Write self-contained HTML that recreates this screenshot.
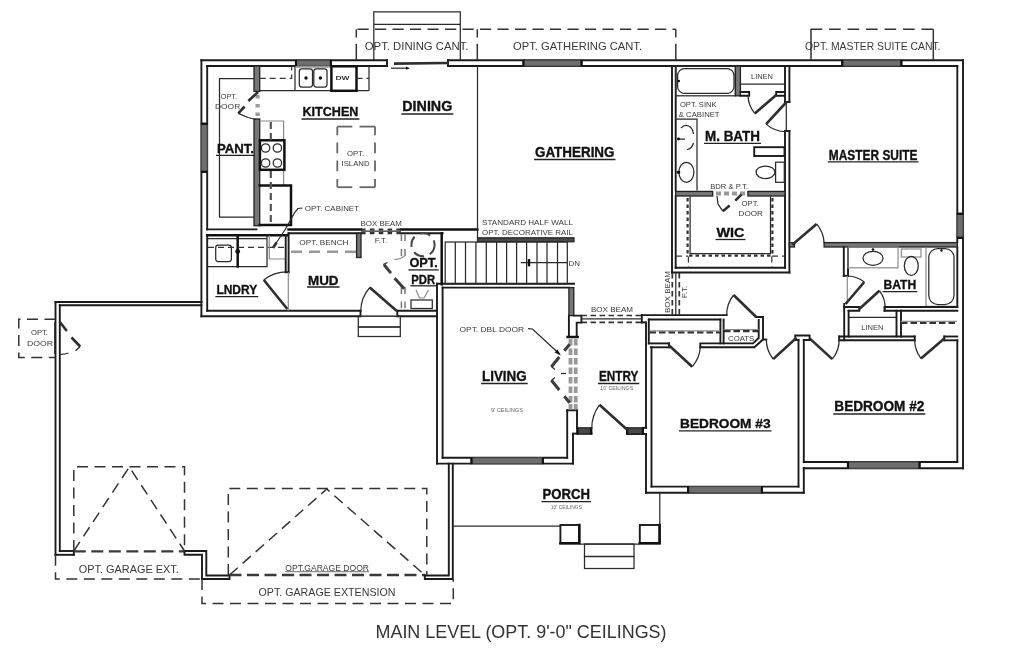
<!DOCTYPE html>
<html lang="en"><head><meta charset="utf-8"><title>Main Level Floor Plan</title>
<style>
html,body{margin:0;padding:0;background:#fff;}
body{width:1024px;height:669px;overflow:hidden;font-family:"Liberation Sans",sans-serif;}
svg{display:block;filter:blur(0.6px);}
svg *{fill:none;}
.w{stroke:#1b1b1b;stroke-width:1.9;stroke-linecap:square;}
.k{stroke:#111;stroke-width:2.5;stroke-linecap:square;}
.t{stroke:#2a2a2a;stroke-width:1.25;}
.g{stroke:#8a8a8a;stroke-width:1.2;}
.d{stroke:#333;stroke-width:1.5;stroke-dasharray:11 6.5;}
.ds{stroke:#333;stroke-width:1.2;stroke-dasharray:6 4;}
.dk{stroke:#3a3a3a;stroke-width:2.4;stroke-dasharray:12 5.5;}
.dg{stroke:#555;stroke-width:2.2;stroke-dasharray:7 4;}
.dl{stroke:#2e2e2e;stroke-width:2.6;}
.f{fill:#6e6e6e;stroke:#4a4a4a;stroke-width:1.1;}
.f2{fill:#484848;stroke:#222;stroke-width:1.2;}
.fg{fill:#999;stroke:none;}
.fl{fill:#777;stroke:#222;stroke-width:1.3;}
.dd{stroke:#4a4a4a;stroke-width:2.6;stroke-dasharray:10 5.5;}
.db2{stroke:#333;stroke-width:1.7;stroke-dasharray:5.5 3.5;}
.dh2{stroke:#333;stroke-width:2.2;stroke-dasharray:6.5 3;}
.dd1{stroke:#333;stroke-width:1.5;}
.dbx{stroke:#333;stroke-width:2.2;stroke-dasharray:4.6 4.25;}
.dv{stroke:#3c3c3c;stroke-width:3;}
.gw{stroke:#777;stroke-width:1.5;}
.gi{stroke:#666;stroke-width:1.8;}
.dh{stroke:#333;stroke-width:2.2;stroke-dasharray:3.5 3;}
.fk{fill:#111;stroke:none;}
.u{stroke:#222;stroke-width:1.3;}
text{font-family:"Liberation Sans",sans-serif;stroke:none;}
text.b{fill:#111;font-weight:bold;stroke:#111;stroke-width:0.35;}
text.s{fill:#3a3a3a;}
text.b2{fill:#333;font-weight:bold;}
text.x{fill:#666;}
text.h{fill:#333;}
</style></head>
<body>
<svg width="1024" height="669" viewBox="0 0 1024 669">
<rect x="0" y="0" width="1024" height="669" style="fill:#fff"/>
<line class="w" x1="201.4" y1="60.3" x2="387" y2="60.3"/>
<line class="w" x1="448" y1="60.3" x2="963.0" y2="60.3"/>
<line class="w" x1="207.2" y1="66.0" x2="387" y2="66.0"/>
<line class="w" x1="448" y1="66.0" x2="957.3" y2="66.0"/>
<line class="w" x1="387" y1="60.3" x2="387" y2="66.0"/>
<line class="w" x1="448" y1="60.3" x2="448" y2="66.0"/>
<rect class="f" x="295.5" y="60.3" width="35.9" height="5.7"/>
<rect class="fk" x="294.9" y="59.8" width="2.2" height="6.7"/>
<rect class="fk" x="329.79999999999995" y="59.8" width="2.2" height="6.7"/>
<rect class="f" x="523" y="60.3" width="59" height="5.7"/>
<rect class="fk" x="522.4" y="59.8" width="2.2" height="6.7"/>
<rect class="fk" x="580.4" y="59.8" width="2.2" height="6.7"/>
<rect class="f" x="841.8" y="60.3" width="60.0" height="5.7"/>
<rect class="fk" x="841.1999999999999" y="59.8" width="2.2" height="6.7"/>
<rect class="fk" x="900.1999999999999" y="59.8" width="2.2" height="6.7"/>
<line class="dl" x1="394" y1="63.6" x2="448" y2="63.0"/>
<line class="t" x1="391" y1="68.2" x2="406" y2="68.2"/>
<path class="fk" d="M406 66.6 L410 68.2 L406 69.8 Z"/>
<line class="w" x1="201.4" y1="60.3" x2="201.4" y2="316.2"/>
<line class="w" x1="207.2" y1="66.0" x2="207.2" y2="229.4"/>
<line class="w" x1="207.2" y1="235.2" x2="207.2" y2="310.8"/>
<rect class="f" x="201.4" y="123.3" width="5.8" height="49.0"/>
<rect class="fk" x="200.9" y="122.7" width="6.8" height="2.2"/>
<rect class="fk" x="200.9" y="170.70000000000002" width="6.8" height="2.2"/>
<line class="w" x1="963.0" y1="60.3" x2="963.0" y2="468.2"/>
<line class="w" x1="957.3" y1="66.0" x2="957.3" y2="242"/>
<line class="w" x1="957.3" y1="247" x2="957.3" y2="307"/>
<line class="w" x1="957.3" y1="340.3" x2="957.3" y2="462"/>
<rect class="f" x="957.3" y="213.3" width="5.7" height="25.0"/>
<rect class="fk" x="956.8" y="212.70000000000002" width="6.7" height="2.2"/>
<rect class="fk" x="956.8" y="236.70000000000002" width="6.7" height="2.2"/>
<line class="w" x1="803.8" y1="468.2" x2="963.0" y2="468.2"/>
<line class="w" x1="803.8" y1="462" x2="957.3" y2="462"/>
<rect class="f" x="847.5" y="462" width="72.5" height="6.2"/>
<rect class="fk" x="846.9" y="461.5" width="2.2" height="7.2"/>
<rect class="fk" x="918.4" y="461.5" width="2.2" height="7.2"/>
<line class="w" x1="798.5" y1="340" x2="798.5" y2="486.6"/>
<line class="w" x1="803.8" y1="340" x2="803.8" y2="462"/>
<line class="w" x1="803.8" y1="468.2" x2="803.8" y2="492.8"/>
<line class="w" x1="646" y1="492.8" x2="803.8" y2="492.8"/>
<line class="w" x1="651.5" y1="486.6" x2="798.5" y2="486.6"/>
<rect class="f" x="687.6" y="486.6" width="74.8" height="6.2"/>
<rect class="fk" x="687.0" y="486.1" width="2.2" height="7.2"/>
<rect class="fk" x="760.8" y="486.1" width="2.2" height="7.2"/>
<line class="w" x1="646" y1="322.4" x2="646" y2="427.8"/>
<line class="w" x1="646" y1="434" x2="646" y2="492.8"/>
<line class="w" x1="651.5" y1="347.3" x2="651.5" y2="486.6"/>
<line class="w" x1="573" y1="433.6" x2="591.5" y2="433.6"/>
<line class="w" x1="627.5" y1="434" x2="646" y2="434"/>
<line class="w" x1="643.3" y1="427.8" x2="646" y2="427.8"/>
<rect class="f2" x="577" y="427.8" width="14.6" height="6.2"/>
<rect class="fk" x="576.4" y="427.3" width="2.2" height="7.2"/>
<rect class="fk" x="590.0" y="427.3" width="2.2" height="7.2"/>
<rect class="f2" x="626.6" y="427.8" width="16.7" height="6.2"/>
<rect class="fk" x="626.0" y="427.3" width="2.2" height="7.2"/>
<rect class="fk" x="641.6999999999999" y="427.3" width="2.2" height="7.2"/>
<line class="dl" x1="628" y1="430.5" x2="599.5" y2="404.8"/>
<path class="t" d="M599.5 404.8 A38.38 38.38 0 0 0 591.8 429"/>
<line class="w" x1="437" y1="283.8" x2="574" y2="283.8"/>
<line class="w" x1="442.6" y1="287.6" x2="568.9" y2="287.6"/>
<line class="w" x1="437" y1="283.8" x2="437" y2="463.6"/>
<line class="w" x1="442.6" y1="287.6" x2="442.6" y2="457.8"/>
<line class="w" x1="437" y1="463.6" x2="573" y2="463.6"/>
<line class="w" x1="442.6" y1="457.8" x2="567.2" y2="457.8"/>
<rect class="f" x="471" y="457.8" width="72.3" height="5.8"/>
<rect class="fk" x="470.4" y="457.3" width="2.2" height="6.8"/>
<rect class="fk" x="541.6999999999999" y="457.3" width="2.2" height="6.8"/>
<line class="w" x1="573" y1="434" x2="573" y2="463.6"/>
<line class="w" x1="567.2" y1="410.3" x2="567.2" y2="457.8"/>
<line class="w" x1="577" y1="410.3" x2="577" y2="427.8"/>
<line class="w" x1="567.2" y1="410.3" x2="577" y2="410.3"/>
<rect class="fl" x="568.9" y="287.6" width="4.9" height="28.0"/>
<line class="w" x1="568.9" y1="315.6" x2="568.9" y2="337"/>
<path class="w" d="M573.8 315.6 L581.4 315.6 L581.4 322.6 L576.7 322.6 L576.7 337"/>
<line class="k" x1="567.6" y1="337" x2="577.6" y2="337"/>
<rect class="fg" x="568.6" y="339" width="3.8" height="6.5"/>
<rect class="fg" x="573.8" y="339" width="3.8" height="6.5"/>
<rect class="fg" x="568.6" y="348.5" width="3.8" height="6.5"/>
<rect class="fg" x="573.8" y="348.5" width="3.8" height="6.5"/>
<rect class="fg" x="568.6" y="358" width="3.8" height="6.5"/>
<rect class="fg" x="573.8" y="358" width="3.8" height="6.5"/>
<rect class="fg" x="568.6" y="367.5" width="3.8" height="6.5"/>
<rect class="fg" x="573.8" y="367.5" width="3.8" height="6.5"/>
<rect class="fg" x="568.6" y="377" width="3.8" height="6.5"/>
<rect class="fg" x="573.8" y="377" width="3.8" height="6.5"/>
<rect class="fg" x="568.6" y="386.5" width="3.8" height="6.5"/>
<rect class="fg" x="573.8" y="386.5" width="3.8" height="6.5"/>
<rect class="fg" x="568.6" y="396" width="3.8" height="6.5"/>
<rect class="fg" x="573.8" y="396" width="3.8" height="6.5"/>
<rect class="fg" x="568.6" y="404" width="3.8" height="5.5"/>
<rect class="fg" x="573.8" y="404" width="3.8" height="5.5"/>
<line class="dv" x1="569.7" y1="344.2" x2="564.3" y2="350.8"/>
<line class="dv" x1="559.3" y1="357" x2="551.4" y2="366.8"/>
<line class="dv" x1="569.7" y1="402.8" x2="564.3" y2="396.2"/>
<line class="dv" x1="559.3" y1="390" x2="551.4" y2="380.2"/>
<line class="t" x1="551.3" y1="366.5" x2="555" y2="369.5"/>
<line class="t" x1="551.3" y1="380.5" x2="555" y2="377.5"/>
<line class="t" x1="561" y1="373.5" x2="566" y2="373.5"/>
<path class="t" d="M528 328.6 L532.5 329 L559.5 354"/>
<path class="fk" d="M561 355.6 L554.6 352.6 L557.4 349.6 Z"/>
<line class="w" x1="55.5" y1="302" x2="201.4" y2="302"/>
<line class="w" x1="59.8" y1="305.3" x2="201.4" y2="305.3"/>
<line class="w" x1="55.5" y1="302" x2="55.5" y2="554.8"/>
<line class="w" x1="59.8" y1="305.3" x2="59.8" y2="551"/>
<line class="w" x1="55.5" y1="554.8" x2="73.8" y2="554.8"/>
<line class="w" x1="59.8" y1="551" x2="73.8" y2="551"/>
<line class="w" x1="73.8" y1="551" x2="73.8" y2="554.8"/>
<line class="dk" x1="73.8" y1="551.4" x2="184.5" y2="551.4"/>
<path class="w" d="M184.5 554.8 L184.5 551 L206.3 551 L206.3 575.5 L229.5 575.5 L229.5 579 L202 579 L202 554.8 L184.5 554.8"/>
<line class="dk" x1="229.5" y1="575" x2="424.8" y2="575"/>
<path class="w" d="M424.8 575.5 L448.8 575.5 L448.8 463.6"/>
<path class="w" d="M424.8 575.5 L424.8 579 L452.8 579 L452.8 463.6"/>
<line class="w" x1="201.4" y1="316.2" x2="360.5" y2="316.2"/>
<line class="w" x1="397.3" y1="316.2" x2="437" y2="316.2"/>
<line class="w" x1="207.2" y1="310.8" x2="360.5" y2="310.8"/>
<line class="w" x1="397.3" y1="310.8" x2="437" y2="310.8"/>
<line class="w" x1="360.5" y1="310.8" x2="360.5" y2="316.2"/>
<line class="w" x1="397.3" y1="310.8" x2="397.3" y2="316.2"/>
<line class="g" x1="360.5" y1="316.2" x2="397.3" y2="316.2"/>
<rect class="t" x="358.3" y="316.2" width="42.0" height="10.8"/>
<rect class="t" x="358.3" y="327" width="42.0" height="9.5"/>
<path class="d" d="M73.8 551 L73.8 466.7 L184.5 466.7 L184.5 551"/>
<path class="d" d="M73.8 551 L129.3 467 L184.5 551"/>
<path class="d" d="M228.3 575 L228.3 488.5 L426.8 488.5 L426.8 575"/>
<path class="d" d="M229.5 575 L326.8 489 L424.8 575"/>
<path class="d" d="M55.5 554.8 L55.5 579 L202 579"/>
<path class="d" d="M202 579 L202 603.5 L453.3 603.5 L453.3 579"/>
<path class="d" d="M55.5 319.2 L18.8 319.2 L18.8 357.5 L55.5 357.5"/>
<line class="dl" x1="59.5" y1="321.5" x2="66.8" y2="331"/>
<line class="dl" x1="71.5" y1="337.5" x2="80.2" y2="346.5"/>
<line class="t" x1="80.2" y1="346.5" x2="75.5" y2="350.8"/>
<path class="t" d="M68.5 353 Q64.5 354.5 60 354.3"/>
<line class="t" x1="54.8" y1="322" x2="54.8" y2="354"/>
<line class="t" x1="452.8" y1="526" x2="560.4" y2="526"/>
<rect class="w" x="560.4" y="525" width="18.9" height="18.4"/>
<path class="k" d="M560.4 543.2 L579.3 543.2 L579.3 525"/>
<rect class="w" x="639.8" y="525" width="19.8" height="18.4"/>
<path class="k" d="M639.8 543.2 L659.6 543.2 L659.6 525"/>
<line class="t" x1="659.8" y1="492.8" x2="659.8" y2="525"/>
<line class="t" x1="579.5" y1="544" x2="639.6" y2="544"/>
<rect class="t" x="584.5" y="544" width="49.5" height="12.5"/>
<rect class="t" x="584.5" y="556.5" width="49.5" height="12.0"/>
<path class="t" d="M373.8 60 L373.8 11.8 L460.3 11.8 L460.3 60"/>
<line class="t" x1="373.8" y1="24.3" x2="460.3" y2="24.3"/>
<line x1="356.3" y1="29.3" x2="675.8" y2="29.3" style="stroke:#333;stroke-width:1.5;stroke-dasharray:11.2 6.3;stroke-dashoffset:-1.2"/>
<line class="dd1" x1="356.3" y1="29.3" x2="356.3" y2="37.5"/>
<line class="dd1" x1="356.3" y1="43.8" x2="356.3" y2="60"/>
<line class="dd1" x1="477.3" y1="29.3" x2="477.3" y2="37.5"/>
<line class="dd1" x1="477.3" y1="43.8" x2="477.3" y2="60"/>
<line class="dd1" x1="675.8" y1="29.3" x2="675.8" y2="37.5"/>
<line class="dd1" x1="675.8" y1="43.8" x2="675.8" y2="60"/>
<line x1="810.6" y1="29.3" x2="933.5" y2="29.3" style="stroke:#333;stroke-width:1.5;stroke-dasharray:11.6 6.9"/>
<line class="dd1" x1="811" y1="29.3" x2="811" y2="60"/>
<line class="dd1" x1="933.3" y1="29.3" x2="933.3" y2="60"/>
<rect class="fl" x="254" y="66" width="5.7" height="25.4"/>
<rect class="fl" x="254" y="119" width="5.7" height="106.7"/>
<rect class="fg" x="255.5" y="95" width="4.2" height="3.5"/>
<rect class="fg" x="255.5" y="104" width="4.2" height="3.5"/>
<rect class="fg" x="255.5" y="112.5" width="4.2" height="3.5"/>
<path class="t" d="M254 78.5 L219.5 78.5 L219.5 217.2 L254 217.2"/>
<line class="dl" x1="258" y1="92" x2="248.4" y2="101"/>
<line class="dl" x1="244.6" y1="106.5" x2="238.3" y2="113.4"/>
<path class="t" d="M238.3 113.4 L248 117.5 L256 119.5"/>
<line class="w" x1="207.2" y1="229.4" x2="256.5" y2="229.4"/>
<line class="k" x1="207.2" y1="235.2" x2="286.7" y2="235.2"/>
<line class="t" x1="259.7" y1="90.7" x2="369" y2="90.7"/>
<line class="t" x1="369" y1="66" x2="369" y2="90.7"/>
<line class="t" x1="295" y1="66" x2="295" y2="90.7"/>
<rect class="fg" x="295.5" y="66" width="35.9" height="1.8"/>
<rect class="t" x="299.3" y="68.8" width="13.2" height="18.2" rx="2.5"/>
<rect class="t" x="313.8" y="68.8" width="13.2" height="18.2" rx="2.5"/>
<circle class="fk" cx="306" cy="78" r="1.7"/><circle class="fk" cx="320.4" cy="78" r="1.7"/>
<rect class="k" x="331.4" y="66.3" width="25.1" height="24.5"/>
<path class="ds" d="M259.7 78.4 L291.7 78.4 L291.7 66"/>
<line class="ds" x1="356.5" y1="78.4" x2="369" y2="78.4"/>
<path class="g" d="M259.7 121 L283.6 121 L283.6 140.3"/>
<line class="g" x1="283.6" y1="169.8" x2="283.6" y2="185.5"/>
<rect class="k" x="259.9" y="140.3" width="24.5" height="29.5"/>
<ellipse class="t" cx="265.6" cy="148" rx="4.2" ry="4.2"/>
<ellipse class="t" cx="265.6" cy="163" rx="4.2" ry="4.2"/>
<ellipse class="t" cx="277.4" cy="148" rx="4.2" ry="4.2"/>
<ellipse class="t" cx="277.4" cy="163" rx="4.2" ry="4.2"/>
<path class="k" d="M259.7 185.5 L291 185.5 L291 225 L259.7 225"/>
<line class="dg" x1="270.8" y1="122" x2="270.8" y2="140"/>
<line class="dg" x1="270.8" y1="171" x2="270.8" y2="225"/>
<line class="gi" x1="337.3" y1="126.6" x2="352.3" y2="126.6"/>
<line class="gi" x1="337.3" y1="187.2" x2="352.3" y2="187.2"/>
<line class="gi" x1="359.5" y1="126.6" x2="375" y2="126.6"/>
<line class="gi" x1="359.5" y1="187.2" x2="375" y2="187.2"/>
<line class="gi" x1="337.3" y1="126.6" x2="337.3" y2="135.3"/>
<line class="gi" x1="375" y1="126.6" x2="375" y2="135.3"/>
<line class="gi" x1="337.3" y1="142.5" x2="337.3" y2="153.3"/>
<line class="gi" x1="375" y1="142.5" x2="375" y2="153.3"/>
<line class="gi" x1="337.3" y1="160.5" x2="337.3" y2="171.2"/>
<line class="gi" x1="375" y1="160.5" x2="375" y2="171.2"/>
<line class="gi" x1="337.3" y1="179" x2="337.3" y2="187.2"/>
<line class="gi" x1="375" y1="179" x2="375" y2="187.2"/>
<path class="t" d="M302.5 208 L298 208.5 L295 212 L285.5 229 L273.5 247"/>
<line class="dl" x1="276.5" y1="242.5" x2="273" y2="248"/>
<line class="k" x1="288.5" y1="229.4" x2="361" y2="229.4"/>
<line class="k" x1="401" y1="229.4" x2="477.4" y2="229.4"/>
<line class="w" x1="288.5" y1="233.2" x2="361" y2="233.2"/>
<line class="w" x1="401" y1="233.2" x2="442.7" y2="233.2"/>
<line class="dbx" x1="361" y1="229.5" x2="401" y2="229.5"/>
<line class="dbx" x1="361" y1="233.1" x2="401" y2="233.1"/>
<line class="t" x1="361" y1="231.2" x2="401" y2="231.2"/>
<line class="t" x1="477.5" y1="66" x2="477.5" y2="238"/>
<rect class="f2" x="477.5" y="237.8" width="96.5" height="4.0"/>
<line class="t" x1="207.2" y1="238.6" x2="267" y2="238.6"/>
<path class="t" d="M207.2 266.5 L267 266.5 L267 235.2"/>
<line class="k" x1="237.7" y1="235.2" x2="237.7" y2="266.5"/>
<circle class="fk" cx="237.7" cy="251.4" r="2.4"/>
<line class="ds" x1="208" y1="247.4" x2="286" y2="247.4"/>
<rect class="t" x="215.7" y="245.2" width="15.7" height="16.3" rx="2.5"/>
<path class="g" d="M269.3 235.5 L269.3 259 L285.7 259"/>
<line class="w" x1="285.7" y1="235.2" x2="285.7" y2="272.2"/>
<line class="w" x1="288.6" y1="233.3" x2="288.6" y2="272.2"/>
<line class="w" x1="285.7" y1="272.2" x2="288.6" y2="272.2"/>
<line class="g" x1="288.3" y1="272.2" x2="288.3" y2="310.8"/>
<line class="dl" x1="287.3" y1="309" x2="263.8" y2="280"/>
<path class="t" d="M263.8 280 A37.33 37.33 0 0 1 287.2 272"/>
<line x1="291" y1="251.7" x2="356" y2="251.7" style="stroke:#999;stroke-width:2.6;stroke-dasharray:11 7"/>
<rect class="fl" x="356.6" y="233.3" width="4.4" height="24.2"/>
<line class="k" x1="441.7" y1="233.3" x2="441.7" y2="284.3"/>
<line class="gw" x1="401.4" y1="234.3" x2="401.4" y2="241"/>
<line class="gw" x1="401.4" y1="249" x2="401.4" y2="256"/>
<line class="gw" x1="401.4" y1="287.3" x2="401.4" y2="294"/>
<line class="gw" x1="401.4" y1="301.5" x2="401.4" y2="308.3"/>
<line class="gw" x1="405" y1="234.3" x2="405" y2="241"/>
<line class="gw" x1="405" y1="249" x2="405" y2="256"/>
<line class="gw" x1="405" y1="287.3" x2="405" y2="294"/>
<line class="gw" x1="405" y1="301.5" x2="405" y2="308.3"/>
<line class="dv" x1="384.1" y1="264.8" x2="390.9" y2="273.1"/>
<line class="dv" x1="394.6" y1="278.3" x2="404.3" y2="288.8"/>
<line class="t" x1="383.2" y1="264.5" x2="387.5" y2="262.5"/>
<path class="g" d="M394.5 259.6 L400.5 258.5 L404.3 256"/>
<circle cx="423" cy="244.7" r="11.6" style="stroke:#444;stroke-width:2;stroke-dasharray:11 6"/>
<rect class="t" x="411" y="300" width="21.3" height="8.5"/>
<path class="g" d="M416 290 L419.5 298 L424 298 L428.5 290"/>
<line class="dl" x1="396.5" y1="310.8" x2="369.8" y2="287.5"/>
<path class="t" d="M369.8 287.5 A35.44 35.44 0 0 0 360.8 310.8"/>
<rect class="t" x="445.2" y="242" width="122.1" height="41.8"/>
<line class="t" x1="455.3" y1="242" x2="455.3" y2="283.8"/>
<line class="t" x1="465.5" y1="242" x2="465.5" y2="283.8"/>
<line class="t" x1="475.9" y1="242" x2="475.9" y2="283.8"/>
<line class="t" x1="486.3" y1="242" x2="486.3" y2="283.8"/>
<line class="t" x1="496.6" y1="242" x2="496.6" y2="283.8"/>
<line class="t" x1="506.6" y1="242" x2="506.6" y2="283.8"/>
<line class="t" x1="516.6" y1="242" x2="516.6" y2="283.8"/>
<line class="t" x1="526.6" y1="242" x2="526.6" y2="283.8"/>
<line class="t" x1="537" y1="242" x2="537" y2="283.8"/>
<line class="t" x1="547" y1="242" x2="547" y2="283.8"/>
<line class="t" x1="557.5" y1="242" x2="557.5" y2="283.8"/>
<line class="t" x1="520.8" y1="262.7" x2="567" y2="262.7"/>
<line class="k" x1="529" y1="260.3" x2="529" y2="265.1"/>
<line class="w" x1="672" y1="66" x2="672" y2="272.5"/>
<line class="w" x1="675.7" y1="66" x2="675.7" y2="190.5"/>
<line class="w" x1="675.7" y1="196.2" x2="675.7" y2="267.8"/>
<rect class="t" x="675.7" y="66.3" width="59.7" height="29.5"/>
<rect class="t" x="677.6" y="68.6" width="56.4" height="24.8" rx="7"/>
<circle class="fk" cx="678.8" cy="81" r="1.3"/>
<rect class="fl" x="735.4" y="66" width="5.0" height="29.8"/>
<line class="t" x1="740.4" y1="84.1" x2="784.3" y2="84.1"/>
<path class="w" d="M740.4 92 L749.2 92 L749.2 95.8 L740.4 95.8"/>
<path class="w" d="M785 92 L776.2 92 L776.2 95.8 L785 95.8"/>
<line class="dl" x1="776.5" y1="94.8" x2="754.8" y2="113.4"/>
<path class="t" d="M754.8 113.4 A28.58 28.58 0 0 1 748 95.8"/>
<line class="w" x1="785" y1="66" x2="785" y2="102"/>
<line class="w" x1="789.4" y1="66" x2="789.4" y2="102"/>
<line class="w" x1="785" y1="102" x2="789.4" y2="102"/>
<line class="t" x1="786.3" y1="102" x2="786.3" y2="131"/>
<line class="w" x1="785" y1="131" x2="785" y2="267.8"/>
<line class="w" x1="789.4" y1="131" x2="789.4" y2="272.5"/>
<line class="w" x1="785" y1="131" x2="789.4" y2="131"/>
<line class="dl" x1="786.5" y1="102" x2="766.1" y2="124.1"/>
<path class="t" d="M766.1 124.1 A30.08 30.08 0 0 0 786.3 131.6"/>
<path class="t" d="M675.7 119 L697 119 L697 190.5"/>
<ellipse class="t" cx="686.4" cy="172.3" rx="7.5" ry="10"/>
<circle class="fk" cx="678.5" cy="172.3" r="1.7"/>
<path class="t" d="M681 128 A7.5 10 0 0 1 693.5 134 M693.5 143 A7.5 10 0 0 1 687 149.5 M685 139 L677 139"/>
<circle class="fk" cx="678.5" cy="139" r="1.4"/>
<rect class="w" x="754.2" y="147.2" width="30.3" height="8.8"/>
<rect class="t" x="775.6" y="162.2" width="8.7" height="20.1"/>
<ellipse class="t" cx="765.5" cy="172.3" rx="9.4" ry="6.3"/>
<rect class="fl" x="675.7" y="191.4" width="37.0" height="4.6"/>
<rect class="fl" x="747.9" y="191.4" width="37.1" height="4.6"/>
<rect class="fg" x="716" y="191.5" width="5" height="4.0"/>
<rect class="fg" x="724" y="191.5" width="5" height="4.0"/>
<rect class="fg" x="732" y="191.5" width="5" height="4.0"/>
<rect class="fg" x="740" y="191.5" width="5" height="4.0"/>
<path class="t" d="M717 196.2 L718 204 L722.8 211.2"/>
<line class="dl" x1="722.8" y1="211.2" x2="729.7" y2="205.6"/>
<line class="dl" x1="735.3" y1="200.6" x2="741.6" y2="194.3"/>
<line class="w" x1="672" y1="272.5" x2="789.4" y2="272.5"/>
<line class="w" x1="675.7" y1="267.8" x2="785" y2="267.8"/>
<path class="t" d="M690.1 196.2 L690.1 253.7 L770.5 253.7 L770.5 196.2"/>
<line class="dh" x1="687.6" y1="198" x2="687.6" y2="254"/>
<line class="dh" x1="772.4" y1="198" x2="772.4" y2="254"/>
<line class="dh" x1="689" y1="255.6" x2="771" y2="255.6"/>
<line class="ds" x1="676" y1="256.2" x2="688" y2="256.2"/>
<line class="ds" x1="688.4" y1="256.5" x2="688.4" y2="267.8"/>
<line class="ds" x1="771.8" y1="256.5" x2="771.8" y2="267.8"/>
<line class="ds" x1="772" y1="256.2" x2="785" y2="256.2"/>
<line class="t" x1="675.8" y1="272.5" x2="675.8" y2="315"/>
<line class="db2" x1="672.3" y1="273" x2="672.3" y2="315"/>
<line class="db2" x1="679.3" y1="273" x2="679.3" y2="315"/>
<rect class="fl" x="789.4" y="242.8" width="5.1" height="4.2"/>
<line class="dl" x1="792.3" y1="244.8" x2="816.6" y2="223.9"/>
<path class="t" d="M816.6 223.9 A32.05 32.05 0 0 1 824.1 243"/>
<rect class="fl" x="824.1" y="242.6" width="133.2" height="4.4"/>
<line class="w" x1="843.8" y1="247" x2="843.8" y2="275.8"/>
<line class="w" x1="848" y1="247" x2="848" y2="275.8"/>
<line class="w" x1="843.8" y1="275.8" x2="848" y2="275.8"/>
<line class="g" x1="847.3" y1="275.8" x2="847.3" y2="304"/>
<rect class="g" x="848" y="247" width="50" height="20.8"/>
<ellipse class="t" cx="873" cy="258.3" rx="10" ry="7"/>
<circle class="fk" cx="873" cy="249.5" r="1.3"/>
<rect class="g" x="901.3" y="249" width="19.7" height="8"/>
<ellipse class="t" cx="911.3" cy="265.8" rx="7" ry="9.5"/>
<path class="g" d="M926 247 L926 306.3 L957 306.3"/>
<rect class="t" x="928.8" y="248.5" width="25.2" height="56.0" rx="9"/>
<circle class="fk" cx="941.5" cy="250.5" r="1.2"/>
<line class="dl" x1="845.5" y1="304" x2="864.3" y2="282"/>
<path class="t" d="M864.3 282 A28.94 28.94 0 0 0 848 276"/>
<line class="w" x1="884.6" y1="307" x2="957.3" y2="307"/>
<line class="w" x1="884.6" y1="310.8" x2="957.3" y2="310.8"/>
<line class="w" x1="884.6" y1="307" x2="884.6" y2="310.8"/>
<line class="w" x1="844.2" y1="304" x2="844.2" y2="340.3"/>
<line class="w" x1="848.6" y1="310.8" x2="848.6" y2="336.5"/>
<path class="w" d="M844.2 307 L859.3 307 L859.3 310.8 L848.6 310.8"/>
<line class="t" x1="848.6" y1="317.4" x2="896.5" y2="317.4"/>
<line class="dl" x1="859.3" y1="309" x2="879.4" y2="290.7"/>
<path class="t" d="M879.4 290.7 A27.18 27.18 0 0 1 885 309.5"/>
<line class="w" x1="896.5" y1="310.8" x2="896.5" y2="336.5"/>
<line class="w" x1="901" y1="310.8" x2="901" y2="336.5"/>
<line class="dh2" x1="901" y1="322.9" x2="957" y2="322.9"/>
<line class="g" x1="901" y1="321.4" x2="957" y2="321.4"/>
<line class="w" x1="839.2" y1="336.5" x2="914.7" y2="336.5"/>
<line class="w" x1="839.2" y1="340.3" x2="914.7" y2="340.3"/>
<line class="w" x1="839.2" y1="336.5" x2="839.2" y2="340.3"/>
<line class="w" x1="914.7" y1="336.5" x2="914.7" y2="340.3"/>
<line class="w" x1="944.3" y1="336.5" x2="957.3" y2="336.5"/>
<line class="w" x1="944.3" y1="340.3" x2="957.3" y2="340.3"/>
<line class="w" x1="944.3" y1="336.5" x2="944.3" y2="340.3"/>
<line class="dl" x1="944.3" y1="338.4" x2="921" y2="358.5"/>
<path class="t" d="M921 358.5 A30.77 30.77 0 0 1 914.7 339.5"/>
<line class="dl" x1="809.6" y1="338.4" x2="832.3" y2="359.1"/>
<path class="t" d="M832.3 359.1 A30.72 30.72 0 0 0 839.2 339"/>
<path class="w" d="M798.5 340 L795.2 340 L795.2 335.5 L809.6 335.5 L809.6 340 L803.8 340"/>
<line class="dl" x1="796.5" y1="337.8" x2="773.2" y2="359.1"/>
<path class="t" d="M773.2 359.1 A31.57 31.57 0 0 1 766.3 339"/>
<line class="w" x1="641.8" y1="315.1" x2="726.7" y2="315.1"/>
<line class="w" x1="648.8" y1="319.5" x2="720.4" y2="319.5"/>
<line class="w" x1="641.8" y1="315.1" x2="641.8" y2="322.4"/>
<line class="w" x1="641.8" y1="322.4" x2="645.4" y2="322.4"/>
<line class="w" x1="648.8" y1="319.5" x2="648.8" y2="343.4"/>
<line class="w" x1="720.4" y1="319.5" x2="720.4" y2="343.4"/>
<line class="w" x1="723.6" y1="319.5" x2="723.6" y2="343.4"/>
<line class="dh2" x1="649.5" y1="332.3" x2="720" y2="332.3"/>
<line class="g" x1="649.5" y1="330.8" x2="720" y2="330.8"/>
<line class="w" x1="648.8" y1="343.4" x2="669" y2="343.4"/>
<line class="w" x1="650.8" y1="347.3" x2="669" y2="347.3"/>
<line class="w" x1="669" y1="343.4" x2="669" y2="347.3"/>
<path class="w" d="M700.3 347.3 L754.3 347.3 L763 339.5 L763 317 L756.2 317"/>
<path class="w" d="M700.3 347.3 L700.3 343.4 L753 343.4 L758.7 338 L758.7 320"/>
<line class="dl" x1="668.9" y1="345.3" x2="692.2" y2="366.7"/>
<path class="t" d="M692.2 366.7 A31.64 31.64 0 0 0 700.3 346.6"/>
<line class="g" x1="723.6" y1="329.6" x2="758.7" y2="329.6"/>
<line class="dh2" x1="724" y1="331.2" x2="758.5" y2="331.2"/>
<line class="dl" x1="756.2" y1="317" x2="733.6" y2="295"/>
<path class="t" d="M733.6 295 A31.54 31.54 0 0 0 726.7 315.1"/>
<path class="w" d="M763 339.5 L766.3 339.5"/>
<line class="db2" x1="581.5" y1="315.5" x2="641.8" y2="315.5"/>
<line class="db2" x1="581.5" y1="322.4" x2="641.8" y2="322.4"/>
<line class="t" x1="581.5" y1="318.9" x2="641.8" y2="318.9"/>
<text class="b" x="302.5" y="116" font-size="13.57" textLength="55.9" lengthAdjust="spacingAndGlyphs">KITCHEN</text>
<line class="u" x1="301.5" y1="119" x2="359.4" y2="119"/>
<text class="b" x="402.3" y="111" font-size="14.57" textLength="50.0" lengthAdjust="spacingAndGlyphs">DINING</text>
<line class="u" x1="401.3" y1="114" x2="453.3" y2="114"/>
<text class="b" x="217" y="152.8" font-size="13.43" textLength="37" lengthAdjust="spacingAndGlyphs">PANT.</text>
<line class="u" x1="216" y1="155.3" x2="255" y2="155.3"/>
<text class="b" x="535" y="157" font-size="14.29" textLength="79.5" lengthAdjust="spacingAndGlyphs">GATHERING</text>
<line class="u" x1="534" y1="159.5" x2="615.5" y2="159.5"/>
<text class="b" x="705" y="140.5" font-size="15.0" textLength="55" lengthAdjust="spacingAndGlyphs">M. BATH</text>
<line class="u" x1="704" y1="143.4" x2="761" y2="143.4"/>
<text class="b" x="828.8" y="159.5" font-size="14.29" textLength="88.7" lengthAdjust="spacingAndGlyphs">MASTER SUITE</text>
<line class="u" x1="827.8" y1="161.8" x2="918.5" y2="161.8"/>
<text class="b" x="716.5" y="236.5" font-size="13.57" textLength="28.0" lengthAdjust="spacingAndGlyphs">WIC</text>
<line class="u" x1="715.5" y1="239.5" x2="745.5" y2="239.5"/>
<text class="b" x="216.4" y="293.8" font-size="13.29" textLength="40.8" lengthAdjust="spacingAndGlyphs">LNDRY</text>
<line class="u" x1="215.4" y1="296.7" x2="258.2" y2="296.7"/>
<text class="b" x="308" y="284.5" font-size="13.57" textLength="30.5" lengthAdjust="spacingAndGlyphs">MUD</text>
<line class="u" x1="307" y1="287" x2="339.5" y2="287"/>
<text class="b" x="409.4" y="266.5" font-size="13.57" textLength="28.3" lengthAdjust="spacingAndGlyphs">OPT.</text>
<line class="u" x1="408.4" y1="269.9" x2="438.7" y2="269.9"/>
<text class="b" x="411.3" y="283.8" font-size="13.0" textLength="23.9" lengthAdjust="spacingAndGlyphs">PDR</text>
<line class="u" x1="410.3" y1="285.8" x2="436.2" y2="285.8"/>
<text class="b" x="883.5" y="288.8" font-size="13.29" textLength="32.8" lengthAdjust="spacingAndGlyphs">BATH</text>
<line class="u" x1="882.5" y1="291.7" x2="917.3" y2="291.7"/>
<text class="b" x="482" y="381" font-size="14.29" textLength="44.7" lengthAdjust="spacingAndGlyphs">LIVING</text>
<line class="u" x1="481" y1="383.5" x2="527.7" y2="383.5"/>
<text class="b" x="599" y="381" font-size="14.29" textLength="39.3" lengthAdjust="spacingAndGlyphs">ENTRY</text>
<line class="u" x1="598" y1="383.5" x2="639.3" y2="383.5"/>
<text class="b" x="680" y="427.8" font-size="13.57" textLength="90.5" lengthAdjust="spacingAndGlyphs">BEDROOM #3</text>
<line class="u" x1="679" y1="430.8" x2="771.5" y2="430.8"/>
<text class="b" x="834.3" y="411.3" font-size="14.29" textLength="90.0" lengthAdjust="spacingAndGlyphs">BEDROOM #2</text>
<line class="u" x1="833.3" y1="414" x2="925.3" y2="414"/>
<text class="b" x="542.5" y="499" font-size="14.29" textLength="47.5" lengthAdjust="spacingAndGlyphs">PORCH</text>
<line class="u" x1="541.5" y1="501.6" x2="591" y2="501.6"/>
<text class="s" x="364.8" y="49.94" font-size="11.5" textLength="103.7" lengthAdjust="spacingAndGlyphs">OPT. DINING CANT.</text>
<text class="s" x="513" y="49.94" font-size="11.5" textLength="129" lengthAdjust="spacingAndGlyphs">OPT. GATHERING CANT.</text>
<text class="s" x="805" y="49.94" font-size="11.5" textLength="135.5" lengthAdjust="spacingAndGlyphs">OPT. MASTER SUITE CANT.</text>
<text class="s" x="78.8" y="572.64" font-size="11.5" textLength="100.0" lengthAdjust="spacingAndGlyphs">OPT. GARAGE EXT.</text>
<text class="s" x="258.5" y="595.64" font-size="11.5" textLength="137.0" lengthAdjust="spacingAndGlyphs">OPT. GARAGE EXTENSION</text>
<text class="s" x="285.3" y="571.06" font-size="8.5" textLength="83.7" lengthAdjust="spacingAndGlyphs">OPT.GARAGE DOOR</text>
<line class="g" x1="285.3" y1="571.6" x2="369" y2="571.6"/>
<text class="h" x="375.5" y="638.31" font-size="19.2" textLength="291.0" lengthAdjust="spacingAndGlyphs">MAIN LEVEL (OPT. 9'-0" CEILINGS)</text>
<text class="s" x="220.8" y="98.94" font-size="7.6" textLength="16.2" lengthAdjust="spacingAndGlyphs">OPT.</text>
<text class="s" x="215" y="108.64" font-size="7.6" textLength="25.2" lengthAdjust="spacingAndGlyphs">DOOR</text>
<text class="s" x="347" y="155.94" font-size="7.6" textLength="17.2" lengthAdjust="spacingAndGlyphs">OPT.</text>
<text class="s" x="341.5" y="165.54" font-size="7.6" textLength="28.1" lengthAdjust="spacingAndGlyphs">ISLAND</text>
<text class="s" x="304.8" y="210.54" font-size="7.6" textLength="54.2" lengthAdjust="spacingAndGlyphs">OPT. CABINET</text>
<text class="s" x="299.3" y="245.24" font-size="7.6" textLength="49.2" lengthAdjust="spacingAndGlyphs">OPT. BENCH</text>
<text class="s" x="360.5" y="226.04" font-size="7.6" textLength="41.3" lengthAdjust="spacingAndGlyphs">BOX BEAM</text>
<text class="s" x="374.8" y="243.04" font-size="7.6" textLength="12.5" lengthAdjust="spacingAndGlyphs">F.T.</text>
<text class="s" x="482" y="224.74" font-size="7.6" textLength="91" lengthAdjust="spacingAndGlyphs">STANDARD HALF WALL</text>
<text class="s" x="482" y="234.74" font-size="7.6" textLength="91" lengthAdjust="spacingAndGlyphs">OPT. DECORATIVE RAIL</text>
<text class="s" x="568.5" y="265.74" font-size="7.6" textLength="11.5" lengthAdjust="spacingAndGlyphs">DN</text>
<text class="s" x="680" y="106.74" font-size="7.6" textLength="36.5" lengthAdjust="spacingAndGlyphs">OPT. SINK</text>
<text class="s" x="678.8" y="116.74" font-size="7.6" textLength="40.8" lengthAdjust="spacingAndGlyphs">&amp; CABINET</text>
<text class="s" x="751" y="79.14" font-size="7.6" textLength="22" lengthAdjust="spacingAndGlyphs">LINEN</text>
<text class="s" x="710.2" y="188.74" font-size="7.6" textLength="37.8" lengthAdjust="spacingAndGlyphs">BDR &amp; P.T.</text>
<text class="s" x="741.6" y="205.74" font-size="7.6" textLength="17.0" lengthAdjust="spacingAndGlyphs">OPT.</text>
<text class="s" x="738.5" y="215.84" font-size="7.6" textLength="24.5" lengthAdjust="spacingAndGlyphs">DOOR</text>
<text class="s" x="590.9" y="312.44" font-size="7.6" textLength="42.1" lengthAdjust="spacingAndGlyphs">BOX BEAM</text>
<text class="s" x="646.7" y="294.74" font-size="7.6" textLength="42.0" lengthAdjust="spacingAndGlyphs" transform="rotate(-90 667.7 292)">BOX BEAM</text>
<text class="s" x="677.5" y="294.74" font-size="7.6" textLength="12.5" lengthAdjust="spacingAndGlyphs" transform="rotate(-90 683.8 292)">F.T.</text>
<text class="s" x="728" y="340.54" font-size="7.6" textLength="26.3" lengthAdjust="spacingAndGlyphs">COATS</text>
<text class="s" x="861.2" y="329.84" font-size="7.6" textLength="22.3" lengthAdjust="spacingAndGlyphs">LINEN</text>
<text class="s" x="459.5" y="331.94" font-size="7.6" textLength="64.7" lengthAdjust="spacingAndGlyphs">OPT. DBL DOOR</text>
<text class="s" x="31" y="335.24" font-size="7.6" textLength="17" lengthAdjust="spacingAndGlyphs">OPT.</text>
<text class="s" x="27" y="346.24" font-size="7.6" textLength="26" lengthAdjust="spacingAndGlyphs">DOOR</text>
<text class="b2" x="335.5" y="80.46" font-size="6" textLength="14.0" lengthAdjust="spacingAndGlyphs">DW</text>
<text class="x" x="491" y="411.93" font-size="4.8" textLength="32" lengthAdjust="spacingAndGlyphs">9' CEILINGS</text>
<text class="x" x="600" y="389.53" font-size="4.8" textLength="33.3" lengthAdjust="spacingAndGlyphs">10' CEILINGS</text>
<text class="x" x="550.8" y="508.63" font-size="4.8" textLength="31.2" lengthAdjust="spacingAndGlyphs">10' CEILINGS</text>
</svg>
</body></html>
